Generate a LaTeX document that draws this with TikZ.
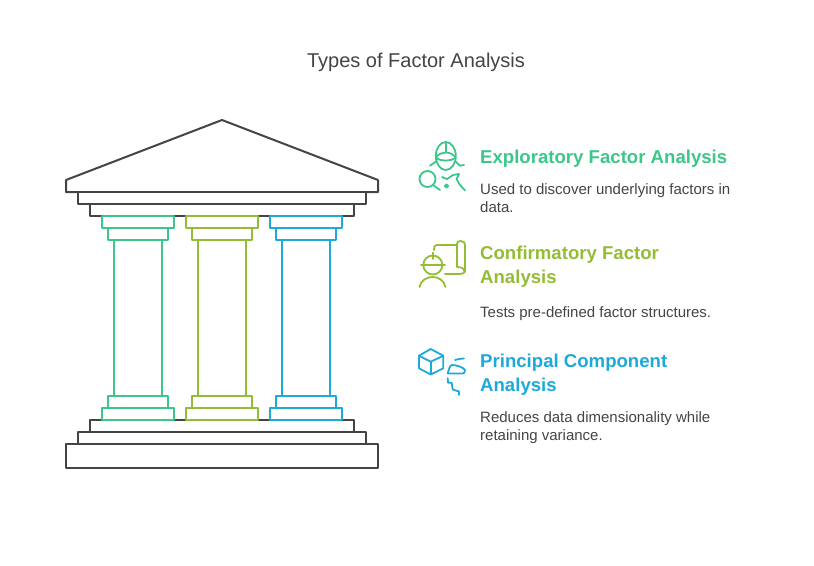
\documentclass[tikz,border=0pt]{standalone}
\usepackage{fontspec}
\setmainfont{Liberation Sans}
\definecolor{dark}{HTML}{444444}
\definecolor{efagreen}{HTML}{3CC68A}
\definecolor{cfaolive}{HTML}{94BC34}
\definecolor{pcablue}{HTML}{1DA9DA}
\tikzset{
  head/.style={anchor=base west,inner sep=0pt,font=\fontsize{18.6}{23}\selectfont\bfseries},
  body/.style={anchor=base west,inner sep=0pt,text=dark,font=\fontsize{15}{18}\selectfont},
  part/.style={draw=#1,line width=2pt,line join=round,fill=white},
  icon/.style={line width=1.8pt,line cap=round,line join=round}
}
% one column of the temple, x is its centre
\newcommand{\pillar}[2]{
\path[part=#2] (#1-24,240) rectangle (#1+24,396);
\path[part=#2] (#1-30,228) rectangle (#1+30,240);
\path[part=#2] (#1-36,216) rectangle (#1+36,228);
\path[part=#2] (#1-30,396) rectangle (#1+30,408);
\path[part=#2] (#1-36,408) rectangle (#1+36,420);
}
\begin{document}
\begin{tikzpicture}[x=1pt,y=-1pt]
\useasboundingbox (0,0) rectangle (814,565);

\node[anchor=base,inner sep=0pt,text=dark,font=\fontsize{20}{24}\selectfont] (title) at (416,67) {Types of Factor Analysis};

% roof and steps
\path[part=dark] (222,120) -- (378,180) -- (378,192) -- (66,192) -- (66,180) -- cycle;
\path[part=dark] (78,192) rectangle (366,204);
\path[part=dark] (90,204) rectangle (354,216);
\path[part=dark] (90,420) rectangle (354,432);
\path[part=dark] (78,432) rectangle (366,444);
\path[part=dark] (66,444) rectangle (378,468);

\pillar{138}{efagreen}
\pillar{222}{cfaolive}
\pillar{306}{pcablue}

% icon 1
\draw[icon,efagreen] (445.8,156) ellipse (10 and 14);
\draw[icon,efagreen] (445.8,142) -- (445.8,152);
\draw[icon,efagreen] (436.5,157) .. controls (441,151) and (450,151) .. (455.5,157);
\draw[icon,efagreen] (436,158) .. controls (441,161.5) and (450,161.5) .. (455.5,158);
\draw[icon,efagreen] (430,165.7) -- (436.7,161);
\draw[icon,efagreen] (455,161) -- (460,165.7) -- (464,165);
\draw[icon,efagreen] (427.5,179) circle (8);
\draw[icon,efagreen] (433,185) -- (440,190);
\draw[icon,efagreen] (442,177) -- (447,179) -- (453,175) -- (459,174) -- (456.5,179) -- (460,185) -- (465,190.5);
\draw[icon,efagreen] (446.5,186) circle (1.7);

% icon 2
\draw[icon,cfaolive] (432.8,265) circle (9.5);
\draw[icon,cfaolive] (421,265) -- (445,265);
\draw[icon,cfaolive] (432.8,252.5) -- (432.8,259);
\draw[icon,cfaolive] (419.5,287) .. controls (421,280) and (427,277) .. (432.7,277) .. controls (438,277) and (444,280) .. (445.5,287);
\draw[icon,cfaolive] (434,250) .. controls (434,246) and (435,245) .. (437,245) -- (457,245);
\draw[icon,cfaolive] (457,245) -- (457,244) .. controls (457,242) and (458,241) .. (461,241) .. controls (464,241) and (465,243) .. (465,245) -- (465,270) .. controls (465,273) and (463,274) .. (460,274) -- (445,274);
\draw[icon,cfaolive] (457,245) -- (457,267) .. controls (461,267) and (464,268) .. (465,272);

% icon 3
\draw[icon,pcablue] (430.7,349) -- (443.3,355.7) -- (443.3,368.3) -- (430.7,374.5) -- (419,368.3) -- (419,355.7) -- cycle;
\draw[icon,pcablue] (419,355.7) -- (430.7,361.7) -- (443.3,355.7);
\draw[icon,pcablue] (430.7,361.7) -- (430.7,374.5);
\draw[icon,pcablue] (447.7,373.5) .. controls (449,369) and (450,365) .. (452,365) .. controls (456,365) and (463,367) .. (465,370) .. controls (465,373) and (464,373.5) .. (462,373.5) -- cycle;
\draw[icon,pcablue] (455,360) .. controls (458,359) and (461,358.5) .. (464,358.5);
\draw[icon,pcablue] (447.7,378.3) -- (448,382.7) -- (451.7,382.7) -- (452.7,389.5) -- (459,391.5) -- (459,395);

\node[head,text=efagreen] (efa) at (480,163) {Exploratory Factor Analysis};
\node[body] (efatexta) at (480,194) {Used to discover underlying factors in};
\node[body] (efatextb) at (480,212) {data.};

\node[head,text=cfaolive] (cfaa) at (480,259) {Confirmatory Factor};
\node[head,text=cfaolive] (cfab) at (480,283) {Analysis};
\node[body] (cfatext) at (480,317) {Tests pre-defined factor structures.};

\node[head,text=pcablue] (pcaa) at (480,367) {Principal Component};
\node[head,text=pcablue] (pcab) at (480,391) {Analysis};
\node[body] (pcatexta) at (480,422) {Reduces data dimensionality while};
\node[body] (pcatextb) at (480,440) {retaining variance.};
\end{tikzpicture}
\end{document}
